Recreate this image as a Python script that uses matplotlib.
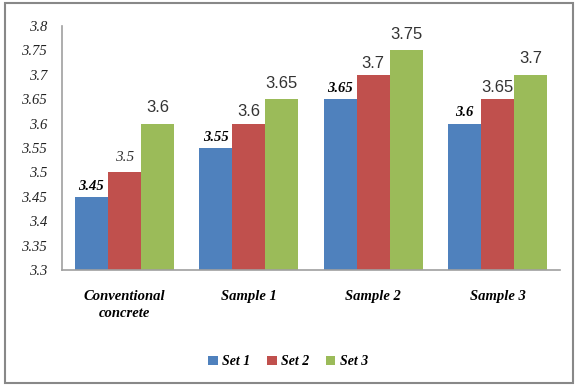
import matplotlib.pyplot as plt
import numpy as np
from matplotlib.patches import Rectangle

# data
categories = ['Conventional\nconcrete', 'Sample 1', 'Sample 2', 'Sample 3']
set1 = [3.45, 3.55, 3.65, 3.6]
set2 = [3.5, 3.6, 3.7, 3.65]
set3 = [3.6, 3.65, 3.75, 3.7]
series_names = ['Set 1', 'Set 2', 'Set 3']
yticks = [3.3, 3.35, 3.4, 3.45, 3.5, 3.55, 3.6, 3.65, 3.7, 3.75, 3.8]

colors = ['#4F81BD', '#C0504D', '#9BBB59']
serif = 'Liberation Serif'
sans = 'Liberation Sans'

fig = plt.figure(figsize=(5.76, 3.87), dpi=100)
ax = fig.add_axes([0.108, 0.302, 0.864, 0.631])

x = np.arange(len(categories))
w = 0.265
for i, (vals, name) in enumerate(zip([set1, set2, set3], series_names)):
    ax.bar(x + (i - 1) * w, np.array(vals) - 3.3, width=w, bottom=3.3,
           color=colors[i], label=name)

# value labels
for j, v in enumerate(set1):
    ax.annotate(f'{v:g}', (x[j] - w, v), xytext=(0, 3), textcoords='offset points',
                ha='center', va='bottom', fontsize=10.5, fontfamily=serif,
                fontweight='bold', fontstyle='italic')
for j, v in enumerate(set2):
    if j == 0:
        ax.annotate(f'{v:g}', (x[j], v), xytext=(0, 6), textcoords='offset points',
                    ha='center', va='bottom', fontsize=11, fontfamily=serif,
                    fontstyle='italic', color='#333333')
    else:
        ax.annotate(f'{v:g}', (x[j], v), xytext=(0, 3), textcoords='offset points',
                    ha='center', va='bottom', fontsize=12, fontfamily=sans,
                    color='#333333')
for j, v in enumerate(set3):
    ax.annotate(f'{v:g}', (x[j] + w, v), xytext=(0, 6), textcoords='offset points',
                ha='center', va='bottom', fontsize=12, fontfamily=sans,
                color='#333333')

ax.set_xlim(-0.5, 3.5)
ax.set_ylim(3.3, 3.8)
ax.set_yticks(yticks)
ax.set_yticklabels([f'{t:g}' for t in yticks], fontfamily=serif,
                   fontstyle='italic', fontsize=10.5, color='#222222')
ax.set_xticks(x)
ax.set_xticklabels(categories, fontfamily=serif, fontstyle='italic',
                   fontweight='bold', fontsize=10.5, linespacing=1.4)
ax.tick_params(axis='both', length=0)
ax.tick_params(axis='x', pad=14)
ax.tick_params(axis='y', pad=11)
for s in ['top', 'right']:
    ax.spines[s].set_visible(False)
for s in ['left', 'bottom']:
    ax.spines[s].set_color('#A0A0A0')
    ax.spines[s].set_linewidth(1.2)

fig.legend(loc='center', bbox_to_anchor=(0.5, 0.065), ncol=3, frameon=False,
           handlelength=0.7, handleheight=0.7, handletextpad=0.3,
           columnspacing=1.2,
           prop={'family': serif, 'style': 'italic', 'weight': 'bold', 'size': 10})

# outer frame
fig.patches.append(Rectangle((0.009, 0.01), 0.985, 0.982, transform=fig.transFigure,
                             fill=False, edgecolor='#888888', linewidth=1.5))

fig.savefig('out.png', dpi=100)
